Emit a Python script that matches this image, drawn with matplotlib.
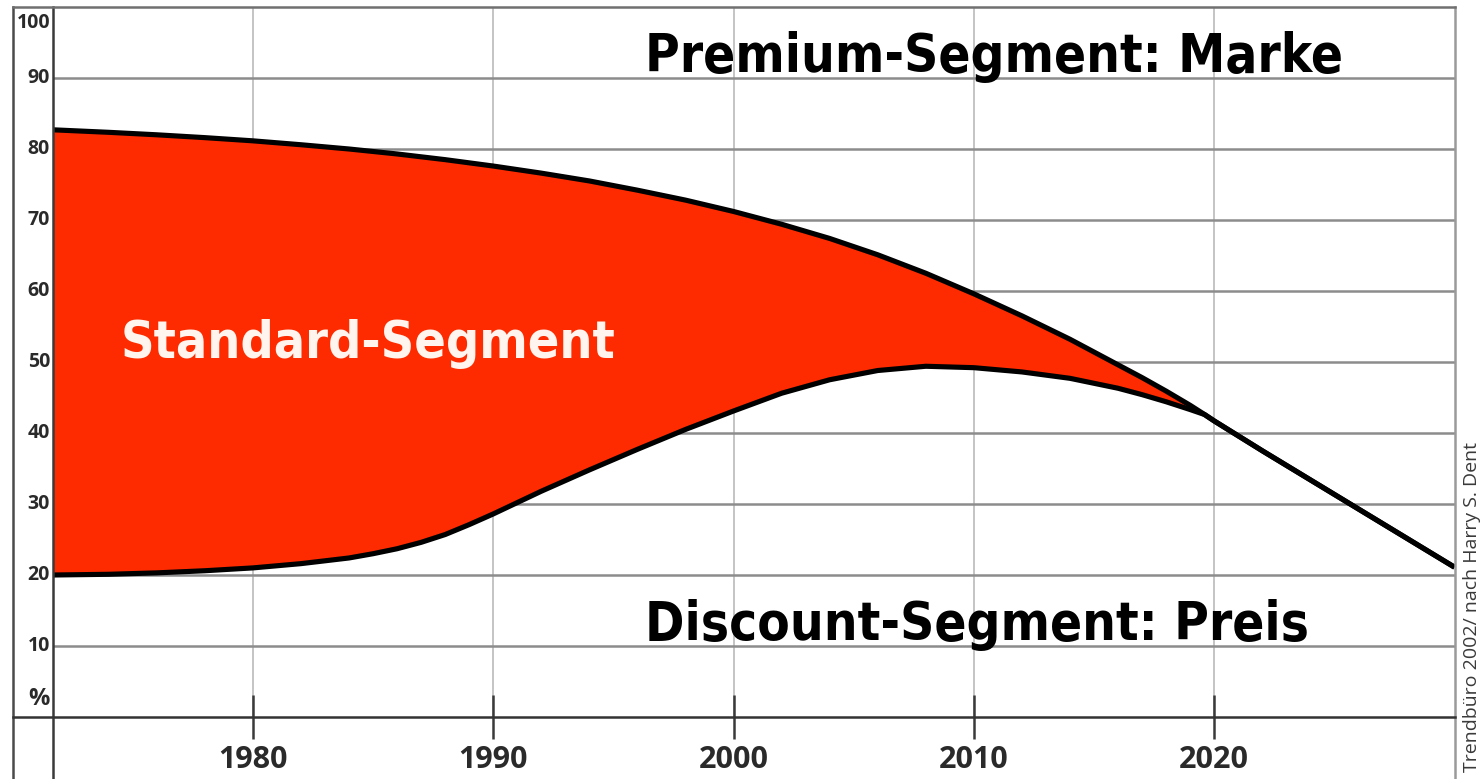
import matplotlib
matplotlib.use("Agg")
import matplotlib.pyplot as plt
from matplotlib.lines import Line2D
from matplotlib.transforms import offset_copy

# --- data -------------------------------------------------------------
years = [1971.7, 1974, 1976, 1978, 1980, 1982, 1984, 1985, 1986, 1987,
         1988, 1989, 1990, 1991, 1992, 1994, 1996, 1998, 2000, 2002,
         2004, 2006, 2008, 2010, 2012, 2014, 2016, 2017, 2018, 2019,
         2019.6, 2020, 2022, 2024, 2026, 2028, 2030]
# top edge of the Standard band (Premium share above it)
upper = [82.7, 82.35, 82.0, 81.6, 81.15, 80.6, 80.0, 79.65, 79.3, 78.9,
         78.5, 78.05, 77.6, 77.1, 76.6, 75.5, 74.2, 72.8, 71.2, 69.4,
         67.4, 65.1, 62.5, 59.6, 56.5, 53.2, 49.6, 47.8, 45.9, 43.9,
         42.6, 41.7, 37.5, 33.4, 29.3, 25.2, 21.1]
# bottom edge of the Standard band (Discount share below it)
lower = [20.0, 20.1, 20.3, 20.6, 21.0, 21.6, 22.4, 23.0, 23.7, 24.6,
         25.7, 27.1, 28.6, 30.2, 31.8, 34.8, 37.7, 40.5, 43.1, 45.6,
         47.5, 48.8, 49.4, 49.2, 48.6, 47.7, 46.3, 45.4, 44.4, 43.3,
         42.6, 41.7, 37.5, 33.4, 29.3, 25.2, 21.1]

x_ticks = [1980, 1990, 2000, 2010, 2020]
x_labels = ["1980", "1990", "2000", "2010", "2020"]
y_ticks = [10, 20, 30, 40, 50, 60, 70, 80, 90, 100]
y_labels = ["10", "20", "30", "40", "50", "60", "70", "80", "90", "100"]

label_premium = "Premium-Segment: Marke"
label_standard = "Standard-Segment"
label_discount = "Discount-Segment: Preis"
source = "Trendbüro 2002/ nach Harry S. Dent"

# --- figure -----------------------------------------------------------
W, H = 1483, 779
fig = plt.figure(figsize=(W / 100, H / 100), dpi=100)
fig.patch.set_facecolor("white")

ax = fig.add_axes([53 / W, 62 / H, 1402 / W, 710 / H])
ax.set_xlim(1971.68, 2030.02)
ax.set_ylim(0, 100)
for sp in ax.spines.values():
    sp.set_visible(False)
ax.set_axisbelow(True)

# horizontal grid
ax.set_yticks(y_ticks[:-1])
ax.yaxis.grid(True, color="#8c8c8c", lw=1.8)
ax.tick_params(axis="y", length=0, labelleft=False)

# vertical grid + decade ticks
ax.set_xticks(x_ticks)
ax.set_xticklabels(x_labels)
ax.xaxis.grid(True, color="#b4b4b4", lw=1.1)
ax.tick_params(axis="x", direction="inout", length=32, width=1.8,
               color="#3a3a3a", pad=4, labelsize=22, labelcolor="#2a2a2a")
for lab in ax.get_xticklabels():
    lab.set_fontfamily("Open Sans")
    lab.set_fontweight("bold")

red = "#fe2b00"
ax.fill_between(years, lower, upper, color=red, lw=0, zorder=2)
ax.plot(years, upper, color="black", lw=3.7, zorder=3,
        solid_joinstyle="round", solid_capstyle="butt")
ax.plot(years, lower, color="black", lw=3.7, zorder=3,
        solid_joinstyle="round", solid_capstyle="butt")

# y labels in the left column
ytr = offset_copy(ax.get_yaxis_transform(), fig=fig, x=-3, y=0, units="dots")
for v, s in zip(y_ticks, y_labels):
    va = "top" if v == 100 else "center"
    yy = 99.2 if v == 100 else v
    ax.text(0, yy, s, transform=ytr, ha="right", va=va, fontsize=14,
            fontweight="bold", family="Open Sans", color="#2a2a2a",
            clip_on=False)
ax.text(0, 0.9, "%", transform=ytr, ha="right", va="bottom", fontsize=17,
        fontweight="bold", family="Open Sans", color="#2a2a2a", clip_on=False)

# segment labels
hdr = dict(fontweight="bold", family="DejaVu Sans", fontstretch="condensed")
ax.text(1996.32, 90.85, label_premium, ha="left", va="baseline",
        color="black", fontsize=38, **hdr)
ax.text(1974.51, 50.56, label_standard, ha="left", va="baseline",
        color="#fff4ee", fontsize=37.3, **hdr)
ax.text(1996.32, 10.85, label_discount, ha="left", va="baseline",
        color="black", fontsize=38, **hdr)

# frame around chart and label column
def fx(x):
    return x / W

def fy(y):
    return 1 - y / H

frame = [
    ((13, 13), (7, 779), "#4a4a4a"),
    ((53, 53), (7, 779), "#3a3a3a"),
    ((1455, 1455), (7, 779), "#9a9a9a"),
    ((13, 1455), (7, 7), "#707070"),
    ((13, 1455), (717, 717), "#333333"),
]
for xs, ys, c in frame:
    fig.add_artist(Line2D([fx(v) for v in xs], [fy(v) for v in ys],
                          transform=fig.transFigure, color=c, lw=1.8))

fig.text(1472 / W, 1 - 772 / H, source, rotation=90, ha="center",
         va="bottom", fontsize=14, color="#3a3a3a", family="Open Sans")

fig.savefig("out.png", dpi=100)
